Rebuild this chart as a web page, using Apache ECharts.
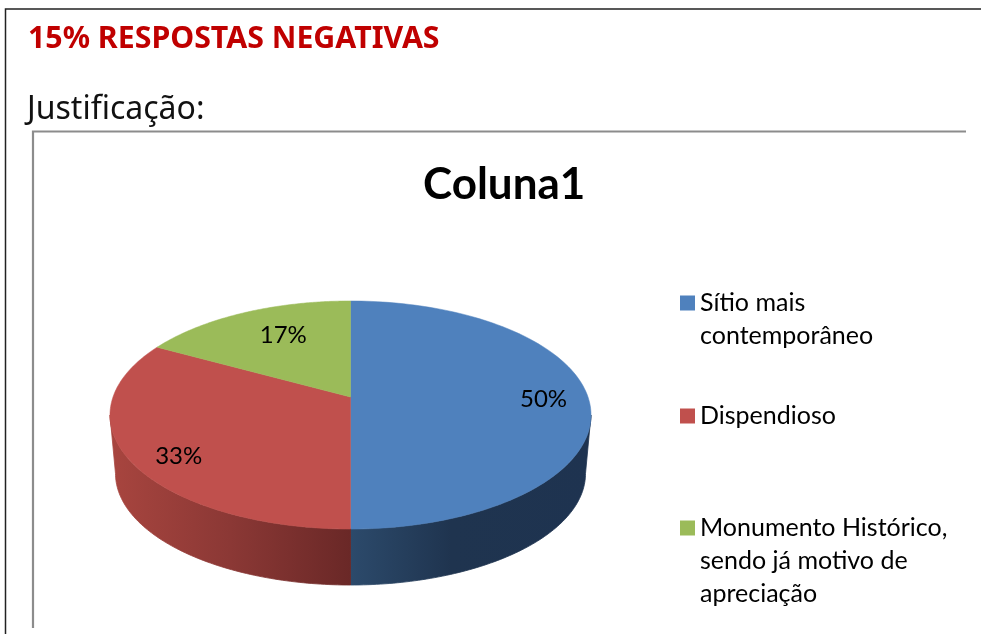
<!DOCTYPE html>
<html><head><meta charset="utf-8">
<style>html,body{margin:0;padding:0;background:#fff}#c{width:981px;height:634px}</style>
<script src="https://cdn.jsdelivr.net/npm/echarts@6/dist/echarts.min.js"></script>
</head><body><div id="c"></div>
<script>
const categories = ['Sítio mais\ncontemporâneo', 'Dispendioso', 'Monumento Histórico,\nsendo já motivo de\napreciação'];
const percentValues = [50, 33, 17];
const sliceColors = ['#4f81bd', '#c0504d', '#9bbb59'];
const wallStops = [
  [[0, '#2c4a6b'], [0.42, '#1f344f'], [1, '#1e3350']],
  [[0, '#a8453f'], [0.5, '#8b3835'], [1, '#6a2827']],
  null
];
const labelNudges = [[3, 2], [3, 11], [20, 7]];

// perspective projection of the pie disc
const disc = {cx: 350.5, cy: 397, r: 237.5, k: 111.2, p: 0.158, wallScale: 0.977, wallCy: 456};
const rad = d => d * Math.PI / 180;
function topPoint(a, f) {
  f = f == null ? 1 : f;
  const u = Math.sin(rad(a)) * f, v = Math.cos(rad(a)) * f, w = 1 + disc.p * v;
  return [disc.cx + disc.r * u / w, disc.cy - disc.k * v / w];
}
function wallPoint(a) {
  const u = Math.sin(rad(a)), v = Math.cos(rad(a)), w = 1 + disc.p * v;
  return [disc.cx + disc.wallScale * disc.r * u / w, disc.wallCy - disc.wallScale * disc.k * v / w];
}
const total = percentValues.reduce((s, v) => s + v, 0);
const silhouette = Math.acos(-disc.p) * 180 / Math.PI;

function renderSlice(index) {
  return function (params, api) {
    const value = api.value(0);
    let before = 0;
    for (let i = 0; i < index; i++) before += percentValues[i];
    const a0 = before / total * 360, a1 = a0 + value / total * 360;
    const children = [];
    const from = Math.max(a0, silhouette), to = Math.min(a1, 360 - silhouette);
    if (wallStops[index] && to > from) {
      const upper = [], lower = [];
      for (let i = 0; i <= 90; i++) {
        const a = from + (to - from) * i / 90;
        upper.push(topPoint(a));
        lower.unshift(wallPoint(a));
      }
      const xs = upper.concat(lower).map(p => p[0]);
      const minX = Math.min.apply(null, xs), maxX = Math.max.apply(null, xs);
      const stops = wallStops[index].map(s => ({offset: s[0], color: s[1]}));
      const grad = {type: 'linear', x: minX, y: 0, x2: maxX, y2: 0, global: true, colorStops: stops};
      children.push({
        type: 'polygon', shape: {points: upper.concat(lower)},
        style: {fill: grad, stroke: grad, lineWidth: 0.8}
      });
    }
    const pts = [topPoint(0, 0)];
    for (let i = 0; i <= 120; i++) pts.push(topPoint(a0 + (a1 - a0) * i / 120));
    children.push({
      type: 'polygon', shape: {points: pts}, z2: 5,
      style: {fill: sliceColors[index], stroke: sliceColors[index], lineWidth: 0.5}
    });
    const mid = topPoint((a0 + a1) / 2, 0.8);
    children.push({
      type: 'text', z2: 10,
      style: {
        x: mid[0] + labelNudges[index][0], y: mid[1] + labelNudges[index][1],
        text: value + '%', fill: '#000', font: '24px Lato', align: 'center', verticalAlign: 'middle'
      }
    });
    return {type: 'group', children};
  };
}

const lineH = 33;
const leadBlank = [1, 0, 2];
const legendTops = [253.5, 399.5, 445.5];

const option = {
  animation: false,
  backgroundColor: '#fff',
  title: [
    {text: '15% RESPOSTAS NEGATIVAS', left: 28, top: 24, padding: 0,
     textStyle: {fontFamily: 'Noto Sans', fontWeight: 'bold', fontSize: 30.3, color: '#c00000'}},
    {text: 'Justificação:', left: 27, top: 94, padding: 0,
     textStyle: {fontFamily: 'Noto Sans', fontWeight: 'normal', fontSize: 32, color: '#111'}},
    {text: 'Coluna1', left: 423, top: 163, padding: 0,
     textStyle: {fontFamily: 'Lato', fontWeight: 'bold', fontSize: 44, color: '#000'}}
  ],
  legend: categories.map((name, i) => ({
    data: [name], left: 680, top: legendTops[i], padding: 0,
    orient: 'vertical', icon: 'rect', itemWidth: 15, itemHeight: 15,
    selectedMode: false,
    formatter: n => '\n'.repeat(leadBlank[i]) + n,
    textStyle: {fontFamily: 'Lato', fontSize: 25, color: '#000', lineHeight: lineH}
  })),
  graphic: [
    {type: 'polyline', silent: true, shape: {points: [[5.5, 634], [5.5, 9], [981, 9]]}, style: {fill: null, stroke: '#222', lineWidth: 1.5}},
    {type: 'polyline', silent: true, shape: {points: [[33, 628], [33, 131.5], [966, 131.5]]}, style: {fill: null, stroke: '#8c8c8c', lineWidth: 2.2}}
  ],
  series: categories.map((name, i) => ({
    type: 'custom', name, coordinateSystem: 'none',
    data: [[percentValues[i]]],
    itemStyle: {color: sliceColors[i]},
    renderItem: renderSlice(i),
    z: 2 + i
  }))
};
echarts.init(document.getElementById('c'), null, {renderer: 'canvas'}).setOption(option);
</script></body></html>
